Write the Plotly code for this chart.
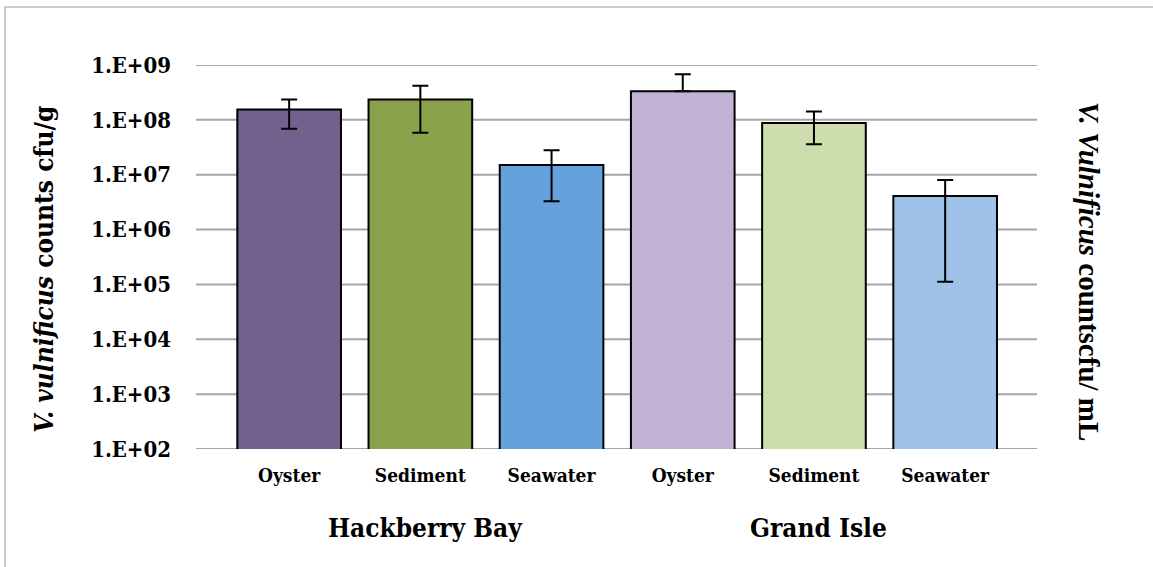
import plotly.graph_objects as go

# Sites, sample types and V. vulnificus counts (cfu/g or cfu/mL)
sites = ["Hackberry Bay", "Grand Isle"]
samples = ["Oyster", "Sediment", "Seawater"]
bar_keys = ["HB Oyster", "HB Sediment", "HB Seawater", "GI Oyster", "GI Sediment", "GI Seawater"]
bar_labels = ["Oyster", "Sediment", "Seawater", "Oyster", "Sediment", "Seawater"]
counts = [1.55e8, 2.35e8, 1.51e7, 3.34e8, 8.8e7, 4.08e6]
err_upper = [2.35e8, 4.18e8, 2.8e7, 6.75e8, 1.42e8, 7.98e6]
err_lower = [6.85e7, 5.8e7, 3.27e6, 3.34e8, 3.6e7, 1.12e5]
bar_colors = ["#74608C", "#8BA24C", "#65A1DD", "#C2B2D4", "#CDDDAC", "#9FC2E8"]
tick_values = [1e2, 1e3, 1e4, 1e5, 1e6, 1e7, 1e8, 1e9]
tick_text = ["1.E+02", "1.E+03", "1.E+04", "1.E+05", "1.E+06", "1.E+07", "1.E+08", "1.E+09"]

plus = [u - c for u, c in zip(err_upper, counts)]
minus = [c - l for c, l in zip(counts, err_lower)]

FONT = "DejaVu Serif Condensed, DejaVu Serif"
FONT_RIGHT = "Liberation Serif, Times New Roman, serif"

fig = go.Figure()
fig.add_trace(go.Bar(
    x=bar_keys,
    y=counts,
    width=0.79,
    marker=dict(color=bar_colors, line=dict(color="black", width=2)),
    error_y=dict(type="data", symmetric=False, array=plus, arrayminus=minus,
                 color="black", thickness=2, width=8),
    showlegend=False,
    hoverinfo="skip",
))

# horizontal gridlines at each decade, across the full plot width
for v in tick_values:
    fig.add_shape(type="line", xref="paper", yref="y", x0=0, x1=1, y0=v, y1=v,
                  line=dict(color="#A6A6A6", width=2), layer="below")

# site labels under each group of three bars
for site, mid in zip(sites, [bar_keys[1], bar_keys[4]]):
    fig.add_annotation(x=mid, xref="x", y=-0.206, yref="paper", text=f"<b>{site}</b>",
                       showarrow=False, font=dict(family=FONT, size=26, color="black"),
                       xanchor="center", yanchor="middle", xshift=5)

# axis titles
fig.add_annotation(x=-0.181, xref="paper", y=0.469, yref="paper",
                   text="<b><i>V. vulnificus</i> counts cfu/g</b>", textangle=-90,
                   showarrow=False, font=dict(family=FONT, size=26, color="black"),
                   xanchor="center", yanchor="middle")
fig.add_annotation(x=1.062, xref="paper", y=0.461, yref="paper",
                   text="<b><i>V. Vulnificus</i> countscfu/ mL</b>", textangle=90,
                   showarrow=False, font=dict(family=FONT_RIGHT, size=29, color="black"),
                   xanchor="center", yanchor="middle")

# outer chart frame
fig.add_shape(type="rect", xref="paper", yref="paper",
              x0=(5 - 196) / 841, x1=(1160 - 196) / 841,
              y0=(449 - 600) / 384, y1=(449 - 7) / 384,
              line=dict(color="#BFBFBF", width=1.5), layer="below")

fig.update_layout(
    width=1153, height=567,
    margin=dict(l=196, r=116, t=65, b=118),
    paper_bgcolor="white", plot_bgcolor="white",
    font=dict(family=FONT, color="black"),
    xaxis=dict(type="category", categoryorder="array", categoryarray=bar_keys,
               tickvals=bar_keys, ticktext=[f"<b>{t}</b>" for t in bar_labels],
               tickfont=dict(family=FONT, size=19, color="black"),
               range=[-0.71, 5.70], showgrid=False, showline=False, ticks="",
               ticklabelstandoff=13, zeroline=False),
    yaxis=dict(type="log", range=[2, 9], tickvals=tick_values,
               ticktext=[f"<b>{t}</b>" for t in tick_text],
               tickfont=dict(family=FONT, size=22, color="black"),
               showgrid=False, zeroline=False, showline=False, ticks="",
               ticklabelstandoff=24),
)

fig.write_html("out.html")
